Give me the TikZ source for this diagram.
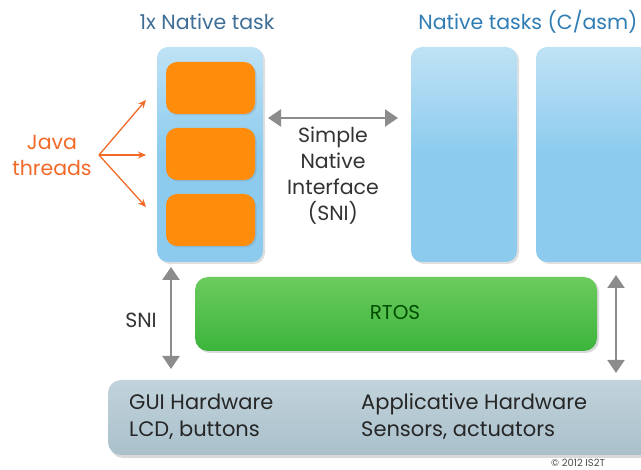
\documentclass[tikz,border=0pt]{standalone}
\usepackage{fontspec}
\setmainfont{Poppins}
\usetikzlibrary{arrows.meta,shadows,calc}
\definecolor{taskblue}{HTML}{8CCBEE}
\definecolor{tasktop}{HTML}{BFE2F5}
\definecolor{thread}{HTML}{FF8C0A}
\definecolor{rtos}{HTML}{3CB43C}
\definecolor{rtostop}{HTML}{6CCB5E}
\definecolor{hw}{HTML}{A9C0CB}
\definecolor{hwtop}{HTML}{C2D3DB}
\definecolor{titleblue}{HTML}{3F6E96}
\definecolor{titleblue2}{HTML}{2F7DB4}
\definecolor{javaorange}{HTML}{F26A28}
\definecolor{arrowgray}{HTML}{8C8C8C}
\tikzset{
  x=1pt, y=-1pt,
  taskbox/.style={rounded corners=11pt, top color=tasktop, bottom color=taskblue, middle color=taskblue,
    drop shadow={shadow xshift=2pt, shadow yshift=-2pt, opacity=0.25}},
  threadbox/.style={rounded corners=11pt, fill=thread,
    drop shadow={shadow xshift=1.5pt, shadow yshift=-1.5pt, opacity=0.25}},
  rtosbox/.style={rounded corners=13pt, top color=rtostop, bottom color=rtos,
    drop shadow={shadow xshift=2pt, shadow yshift=-2pt, opacity=0.3}},
  hwbox/.style={rounded corners=13pt, top color=hwtop, bottom color=hw,
    drop shadow={shadow xshift=2pt, shadow yshift=-3pt, opacity=0.3}},
  dblarrow/.style={draw=arrowgray, line width=2.2pt, {Triangle[length=13pt,width=17pt]}-{Triangle[length=13pt,width=17pt]}},
  javaarrow/.style={draw=javaorange, line width=1.3pt, -{Stealth[length=8pt,width=7pt]}},
  lbl/.style={font=\fontsize{20.5}{26}\selectfont, text=black!80, align=center, inner sep=0pt},
  hwlbl/.style={lbl, anchor=west, align=left, font=\fontsize{21}{27}\selectfont, text=black!85},
  title/.style={font=\fontsize{20.5}{24}\selectfont},
}
\begin{document}
\begin{tikzpicture}
\useasboundingbox (0,0) rectangle (641,470);

% hardware layer
\path[hwbox] (108,380) rectangle (660,455);
\node[hwlbl] (gui) at (129,417) {GUI Hardware\\LCD, buttons};
\node[hwlbl] (app) at (361,417) {Applicative Hardware\\Sensors, actuators};

% RTOS layer
\path[rtosbox] (195,277) rectangle (597,351);
\node[lbl, font=\fontsize{20}{24}\selectfont, text=black!70!green] (rtos) at (395,313) {RTOS};

% task columns
\path[taskbox] (157,47) rectangle (263,262);
\path[taskbox] (411,47) rectangle (517,262);
\path[taskbox] (536,47) rectangle (650,262);

% Java threads
\path[threadbox] (166,62) rectangle (255,114);
\coordinate (t1) at (146,100);
\path[threadbox] (166,128) rectangle (255,180);
\coordinate (t2) at (146,155);
\path[threadbox] (166,194) rectangle (255,246);
\coordinate (t3) at (146,207);

% titles
\node[title, text=titleblue] (title1) at (207,22) {1x Native task};
\node[title, text=titleblue2] (title2) at (528,22) {Native tasks (C/asm)};

% Java threads label and arrows
\node[lbl, text=javaorange] (jt) at (52,155) {Java\\threads};
\coordinate (fork) at (99,155);
\draw[javaarrow] (fork) -- (t1);
\draw[javaarrow] (fork) -- (t2);
\draw[javaarrow] (fork) -- (t3);

% SNI between tasks
\coordinate (snil) at (268,118);
\coordinate (snir) at (398,118);
\draw[dblarrow] (snil) -- (snir);
\node[lbl] (sni) at (333,176) {Simple\\Native\\Interface\\(SNI)};

% vertical links to hardware
\coordinate (va) at (171,267);
\coordinate (vb) at (171,369);
\draw[dblarrow] (va) -- (vb);
\node[lbl] (snilbl) at (141,320) {SNI};
\coordinate (wa) at (616,275);
\coordinate (wb) at (616,373);
\draw[dblarrow] (wa) -- (wb);

% copyright
\node[font=\fontsize{10}{12}\selectfont, text=black!70, anchor=west, inner sep=0pt] (copy) at (551,463) {© 2012 IS2T};
\end{tikzpicture}
\end{document}
